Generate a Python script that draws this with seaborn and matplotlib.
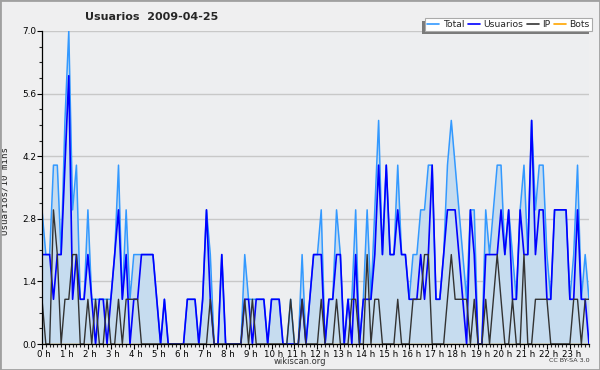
import numpy as np
import pandas as pd
import matplotlib
matplotlib.use("Agg")
import matplotlib.pyplot as plt
from matplotlib.lines import Line2D
from matplotlib.patches import Rectangle, Shadow
from matplotlib.transforms import ScaledTranslation
from matplotlib.ticker import MultipleLocator, FuncFormatter
import seaborn as sns

# usuarios por intervalo de 10 minutos (00:00 -> 23:50)
usuarios = [2, 2, 2, 1, 2, 2, 4, 6, 1, 2, 1, 1, 2, 1, 0, 1, 1, 0, 1, 2,
            3, 1, 2, 0, 1, 1, 2, 2, 2, 2, 1, 0, 1, 0, 0, 0, 0, 0, 1, 1,
            1, 0, 1, 3, 1, 0, 0, 2, 0, 0, 0, 0, 0, 1, 1, 0, 1, 1, 1, 0,
            1, 1, 1, 0, 0, 0, 0, 0, 1, 0, 1, 2, 2, 2, 0, 1, 1, 2, 2, 0,
            1, 0, 2, 0, 1, 1, 1, 2, 4, 2, 4, 2, 2, 3, 2, 2, 1, 1, 1, 2,
            1, 2, 4, 1, 1, 2, 3, 3, 3, 2, 1, 0, 3, 2, 0, 0, 2, 2, 2, 2,
            3, 2, 3, 1, 1, 3, 2, 2, 5, 2, 3, 3, 1, 1, 3, 3, 3, 3, 1, 1,
            3, 1, 1, 0]
ip = [1, 0, 0, 3, 2, 0, 1, 1, 2, 2, 0, 0, 1, 0, 1, 0, 0, 1, 0, 0,
      1, 0, 1, 1, 1, 1, 0, 0, 0, 0, 0, 0, 0, 0, 0, 0, 0, 0, 0, 0,
      0, 0, 0, 0, 1, 0, 0, 0, 0, 0, 0, 0, 0, 1, 0, 1, 0, 0, 0, 0,
      0, 0, 0, 0, 0, 1, 0, 0, 1, 0, 0, 0, 0, 1, 0, 0, 0, 1, 0, 0,
      0, 1, 1, 0, 0, 2, 0, 1, 1, 0, 0, 0, 0, 1, 0, 0, 0, 1, 1, 1,
      2, 2, 0, 0, 0, 0, 1, 2, 1, 1, 1, 1, 0, 1, 0, 0, 1, 0, 1, 2,
      1, 0, 0, 1, 0, 0, 2, 0, 0, 1, 1, 1, 1, 0, 0, 0, 0, 0, 0, 1,
      1, 0, 1, 1]
total = [3, 2, 2, 4, 4, 2, 5, 7, 3, 4, 1, 1, 3, 1, 1, 1, 1, 1, 1, 2,
         4, 1, 3, 1, 2, 2, 2, 2, 2, 2, 1, 0, 1, 0, 0, 0, 0, 0, 1, 1,
         1, 0, 1, 3, 2, 0, 0, 2, 0, 0, 0, 0, 0, 2, 1, 1, 1, 1, 1, 0,
         1, 1, 1, 0, 0, 1, 0, 0, 2, 0, 1, 2, 2, 3, 0, 1, 1, 3, 2, 0,
         1, 1, 3, 0, 1, 3, 1, 3, 5, 2, 4, 2, 2, 4, 2, 2, 1, 2, 2, 3,
         3, 4, 4, 1, 1, 2, 4, 5, 4, 3, 2, 1, 3, 3, 0, 0, 3, 2, 3, 4,
         4, 2, 3, 2, 1, 3, 4, 2, 5, 3, 4, 4, 2, 1, 3, 3, 3, 3, 1, 2,
         4, 1, 2, 1]
bots = [0] * len(total)

hour_labels = [f"{h} h" for h in range(24)]
y_ticks = [0.0, 1.4, 2.8, 4.2, 5.6, 7.0]

series_colors = {"Total": "#3399ff", "Usuarios": "#0000ff", "IP": "#333333", "Bots": "#ffa500"}

slots = np.arange(len(total))
df = pd.DataFrame({"slot": slots, "Total": total, "Usuarios": usuarios, "IP": ip, "Bots": bots})
long_df = df.melt(id_vars="slot", var_name="serie", value_name="valor")

sns.set_theme(style="ticks", rc={
    "axes.facecolor": "#edeef0",
    "figure.facecolor": "#efeff0",
    "axes.edgecolor": "black",
    "axes.linewidth": 0.9,
    "xtick.major.size": 3.5, "xtick.minor.size": 2.5,
    "ytick.major.size": 3.5, "ytick.minor.size": 2.2,
    "xtick.major.width": 0.8, "xtick.minor.width": 0.8,
    "ytick.major.width": 0.8, "ytick.minor.width": 0.8,
    "xtick.major.pad": 0.5, "ytick.major.pad": 0.5,
})
plt.rcParams["font.family"] = ["DejaVu Sans"]

fig = plt.figure(figsize=(6, 3.7), dpi=100)
ax = fig.add_axes([42 / 600, 1 - 344 / 370, 547 / 600, 313 / 370])

ax.fill_between(df["slot"], df["Total"], 0, color="#c6dcef", lw=0, zorder=1)
for name, lw, z in [("Bots", 1.0, 1.5), ("Total", 1.1, 2), ("Usuarios", 1.2, 3), ("IP", 1.0, 4)]:
    sns.lineplot(data=long_df[long_df["serie"] == name], x="slot", y="valor",
                 color=series_colors[name], lw=lw, ax=ax, zorder=z, legend=False)

ax.set_xlim(0, len(total) - 1)
ax.set_ylim(0, 7)
ax.set_yticks(y_ticks)
ax.yaxis.set_major_formatter(FuncFormatter(lambda v, p: f"{v:.1f}"))
ax.yaxis.set_minor_locator(MultipleLocator(0.35))
ax.set_xticks(np.arange(0, 24) * 6)
ax.set_xticklabels(hour_labels)
ax.xaxis.set_minor_locator(MultipleLocator(1))
ax.tick_params(axis="x", labelsize=6.2, colors="black")
ax.tick_params(axis="y", labelsize=6.4, colors="black")
shift = ScaledTranslation(2 / 100, 0, fig.dpi_scale_trans)
for lab in ax.get_xticklabels():
    lab.set_transform(lab.get_transform() + shift)
ax.grid(axis="y", color="#c8c8c8", lw=1, zorder=0)
ax.set_axisbelow(True)
for s in ["top", "right"]:
    ax.spines[s].set_visible(False)
for s in ["left", "bottom"]:
    ax.spines[s].set_zorder(6)

ax.set_xlabel("")
ax.set_ylabel("Usuarios/10 mins", family="DejaVu Sans Mono", fontsize=6.6)
ax.yaxis.set_label_coords(-0.06, 0.488)

fig.text(85 / 600, 1 - 17 / 370, "Usuarios  2009-04-25", fontsize=8, fontweight="bold", va="center")
fig.text(0.5, 1 - 362 / 370, "wikiscan.org", fontsize=6, ha="center", va="center", color="#333333")
fig.text(569 / 600, 1 - 360 / 370, "CC BY-SA 3.0", fontsize=4.6, ha="center", va="center", color="#333333")

handles = [Line2D([], [], color=series_colors[n], lw=1.2) for n in ["Total", "Usuarios", "IP", "Bots"]]
leg = fig.legend(handles, ["Total", "Usuarios", "IP", "Bots"], loc="upper right",
                 bbox_to_anchor=(592 / 600, 1 - 18 / 370), ncol=4, fontsize=6.7,
                 handlelength=1.3, handletextpad=0.35, columnspacing=0.4,
                 borderpad=0.22, borderaxespad=0, fancybox=False, framealpha=1,
                 edgecolor="#aaaaaa", facecolor="white")
leg.get_frame().set_linewidth(0.8)

# sombra de la leyenda (abajo a la izquierda)
fig.canvas.draw()
sh = Shadow(leg.legendPatch, -2.2, -2.2, facecolor="#7a7a7a", edgecolor="none", alpha=1)
sh.set_zorder(4.5)
fig.add_artist(sh)
fig.patches.append(Rectangle((0, 0), 1, 1, transform=fig.transFigure, fill=False,
                             edgecolor="#a0a0a0", lw=2, zorder=10))

fig.savefig("out.png", dpi=100)
